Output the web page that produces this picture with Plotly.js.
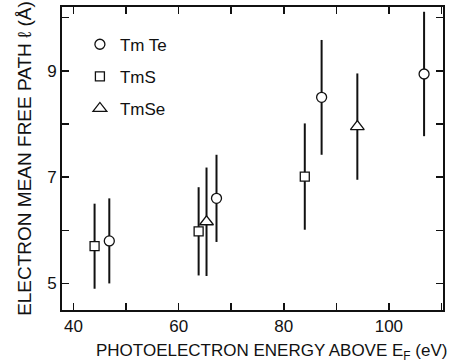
<!DOCTYPE html>
<html><head><meta charset="utf-8">
<script src="https://cdn.plot.ly/plotly-3.0.1.min.js"></script>
<style>html,body{margin:0;padding:0;background:#fff}</style>
</head><body>
<div id="chart" style="width:456px;height:364px"></div>
<script>
// Data
var tmteX = [46.8, 67.2, 87.2, 106.7];
var tmteY = [5.8, 6.6, 8.5, 8.94];
var tmteErr = [0.8, 0.82, 1.08, 1.17];

var tmsX = [44.0, 63.8, 84.0];
var tmsY = [5.7, 5.98, 7.01];
var tmsErr = [0.8, 0.83, 1.0];

var tmseX = [65.3, 94.0];
var tmseY = [6.16, 7.95];
var tmseErr = [1.02, 1.0];

var xTickVals = [40, 50, 60, 70, 80, 90, 100, 110];
var xTickText = ['40', '', '60', '', '80', '', '100', ''];
var yTickVals = [5, 6, 7, 8, 9, 10];
var yTickText = ['5', '', '7', '', '9', ''];

var FONT = 'Liberation Sans, Arial, sans-serif';

function series(name, x, y, err, symbol, size, group) {
  return {
    type: 'scatter', mode: 'markers', name: name, x: x, y: y,
    legendgroup: group,
    error_y: {type: 'data', array: err, visible: true, color: '#111', thickness: 2, width: 0},
    marker: {symbol: symbol, size: size, color: '#fff', line: {color: '#111', width: 1.3}}
  };
}

var data = [
  series('Tm Te', tmteX, tmteY, tmteErr, 'circle', 10, 'a'),
  series('TmS', tmsX, tmsY, tmsErr, 'square', 9, 'b'),
  series('TmSe', tmseX, tmseY, tmseErr, 'triangle-up', 12, 'c')
];

var axisCommon = {
  showgrid: false, zeroline: false, showline: true, linecolor: '#111', linewidth: 2,
  mirror: 'allticks', ticks: 'inside', ticklen: 7, tickwidth: 1.5, tickcolor: '#111',
  tickfont: {family: FONT, size: 17, color: '#111'}, tickmode: 'array'
};

var layout = {
  width: 456, height: 364,
  margin: {l: 62, r: 13, t: 7, b: 54},
  paper_bgcolor: '#fff', plot_bgcolor: '#fff',
  font: {family: FONT, color: '#111'},
  showlegend: true,
  legend: {x: 0.047, y: 0.935, xanchor: 'left', yanchor: 'top', bgcolor: 'rgba(0,0,0,0)',
           font: {family: FONT, size: 17, color: '#111'}, traceorder: 'grouped', tracegroupgap: 7},
  xaxis: Object.assign({}, axisCommon, {
    range: [37.8, 110.3], tickvals: xTickVals, ticktext: xTickText
  }),
  yaxis: Object.assign({}, axisCommon, {
    range: [4.5, 10.2], tickvals: yTickVals, ticktext: yTickText,
    title: {text: 'ELECTRON MEAN FREE PATH \u2113 (\u00C5)', font: {family: FONT, size: 19, color: '#111'}, standoff: 10}
  }),
  annotations: [{
    xref: 'paper', yref: 'paper', x: 0.55, y: -0.14, xanchor: 'center', yanchor: 'middle',
    showarrow: false, text: 'PHOTOELECTRON ENERGY ABOVE E<sub>F</sub> (eV)',
    font: {family: FONT, size: 17, color: '#111'}
  }]
};

Plotly.newPlot('chart', data, layout, {staticPlot: true, displayModeBar: false});
</script>
</body></html>
